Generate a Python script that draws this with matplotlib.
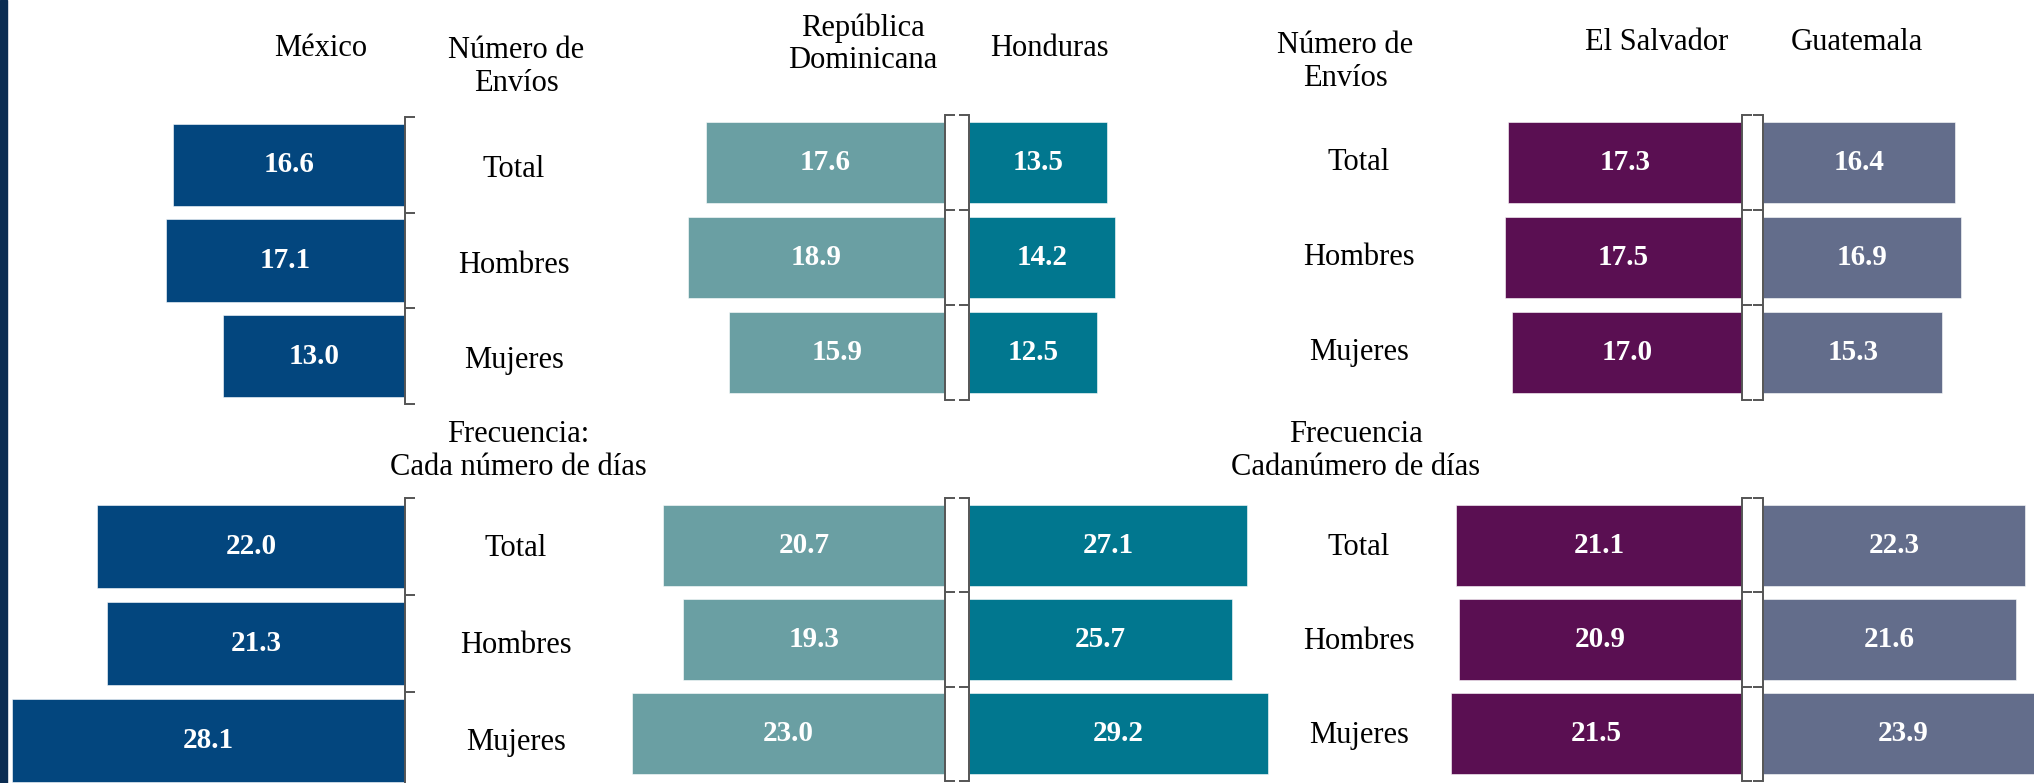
import matplotlib
matplotlib.use('Agg')
import matplotlib.pyplot as plt
import matplotlib.transforms as mtransforms
from matplotlib.patches import Rectangle

plt.rcParams['font.family'] = ['Liberation Serif', 'DejaVu Serif']

# DATA
categorias = ['Total', 'Hombres', 'Mujeres']

envios_mexico = [16.6, 17.1, 13.0]
envios_rep_dom = [17.6, 18.9, 15.9]
envios_honduras = [13.5, 14.2, 12.5]
envios_el_salvador = [17.3, 17.5, 17.0]
envios_guatemala = [16.4, 16.9, 15.3]

frec_mexico = [22.0, 21.3, 28.1]
frec_rep_dom = [20.7, 19.3, 23.0]
frec_honduras = [27.1, 25.7, 29.2]
frec_el_salvador = [21.1, 20.9, 21.5]
frec_guatemala = [22.3, 21.6, 23.9]

# colours
c_mexico = '#03467e'
c_rep_dom = '#6a9fa3'
c_honduras = '#01778f'
c_el_salvador = '#5a0f52'
c_guatemala = '#636d8b'
spine_col = '#555555'

W, H = 2034, 783
fig = plt.figure(figsize=(W / 100, H / 100), dpi=100)

def box(x0, x1, y0, y1):
    # pixel box (top-left origin) -> figure fraction
    return [x0 / W, 1 - y1 / H, (x1 - x0) / W, (y1 - y0) / H]

def panel(x0, x1, y0, y1, vals, color, scale, leftward):
    ax = fig.add_axes(box(x0, x1, y0, y1))
    ax.barh(range(len(vals)), vals, height=0.86, color=color,
            edgecolor='white', linewidth=0.4)
    span = (x1 - x0) / scale
    if leftward:
        ax.set_xlim(span, 0)
        ax.yaxis.tick_right()
        keep = 'right'
    else:
        ax.set_xlim(0, span)
        keep = 'left'
    ax.set_ylim(len(vals) - 0.5, -0.5)
    for s in ax.spines:
        ax.spines[s].set_visible(s == keep)
    ax.spines[keep].set_color(spine_col)
    ax.spines[keep].set_linewidth(1.4)
    ax.set_xticks([])
    ax.set_yticks([i - 0.5 for i in range(len(vals) + 1)])
    ax.set_yticklabels([])
    ax.tick_params(axis='y', direction='out', length=7, width=1.4, color=spine_col)
    ax.patch.set_alpha(0)
    for i, v in enumerate(vals):
        ax.text(v / 2, i, f'{v:.1f}', ha='center', va='center', color='white',
                fontsize=21, fontweight='bold')
    return ax

# top row: numero de envios
ax_mx1 = panel(0, 405, 117, 404, envios_mexico, c_mexico, 14.0, True)
ax_rd1 = panel(600, 945, 115, 400, envios_rep_dom, c_rep_dom, 13.6, True)
ax_hn1 = panel(969, 1300, 115, 400, envios_honduras, c_honduras, 10.25, False)
ax_sv1 = panel(1400, 1742, 115, 400, envios_el_salvador, c_el_salvador, 13.55, True)
ax_gt1 = panel(1763, 2034, 115, 400, envios_guatemala, c_guatemala, 11.73, False)

# bottom row: frecuencia
ax_mx2 = panel(0, 405, 498, 789, frec_mexico, c_mexico, 14.0, True)
ax_rd2 = panel(600, 945, 498, 781, frec_rep_dom, c_rep_dom, 13.6, True)
ax_hn2 = panel(969, 1300, 498, 781, frec_honduras, c_honduras, 10.25, False)
ax_sv2 = panel(1400, 1742, 498, 781, frec_el_salvador, c_el_salvador, 13.55, True)
ax_gt2 = panel(1763, 2034, 498, 781, frec_guatemala, c_guatemala, 11.73, False)

# category labels (small vertical nudge in data units)
for ax, xpix, dy in [(ax_mx1, 514, 0.05), (ax_mx2, 516, 0.02),
                     (ax_sv1, 1359, 0.0), (ax_sv2, 1359, 0.02)]:
    tr = mtransforms.blended_transform_factory(fig.transFigure, ax.transData)
    for i, c in enumerate(categorias):
        ax.text(xpix / W, i + dy, c, transform=tr, ha='center', va='center',
                fontsize=22, clip_on=False)

# headers
def label(xpix, ypix, s):
    fig.text(xpix / W, 1 - ypix / H, s, ha='center', va='center',
             fontsize=22, linespacing=1.15)

label(321, 48, 'México')
label(516, 67, 'Número de\nEnvíos')
label(863, 44, 'República\nDominicana')
label(1049, 48, 'Honduras')
label(1345, 62, 'Número de\nEnvíos')
label(1657, 43, 'El Salvador')
label(1857, 43, 'Guatemala')
label(518, 451, 'Frecuencia:\nCada número de días')
label(1356, 451, 'Frecuencia\nCadanúmero de días')

# dark edge strip on the left
fig.patches.append(Rectangle((0, 0), 7 / W, 1, transform=fig.transFigure,
                             color='#0b2d52', zorder=5))

fig.savefig('out.png', dpi=100)
